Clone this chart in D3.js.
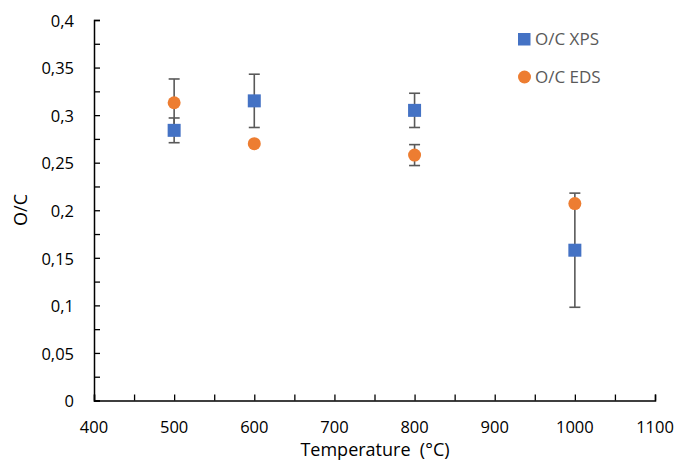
<!DOCTYPE html>
<html><head><meta charset="utf-8">
<script src="https://cdn.jsdelivr.net/npm/d3@7"></script>
<style>body{margin:0;background:#fff}</style>
</head><body>
<svg id="c" width="678" height="461"></svg>
<script>
const temps = [500, 600, 800, 1000];
const xpsValues = [0.284, 0.315, 0.305, 0.158];
const xpsErrors = [0.013, 0.028, 0.018, 0.060];
const edsValues = [0.313, 0.270, 0.258, 0.207];
const edsErrors = [0.025, 0, 0.011, 0];
const xTicks = [400, 500, 600, 700, 800, 900, 1000, 1100];
const yTicks = [0, 0.05, 0.1, 0.15, 0.2, 0.25, 0.3, 0.35, 0.4];
const seriesNames = ["O/C XPS", "O/C EDS"];

const svg = d3.select("#c");
const font = "'Open Sans', sans-serif";
const x = d3.scaleLinear().domain([400, 1100]).range([94, 655]);
const y = d3.scaleLinear().domain([0, 0.4]).range([400.5, 20]);
const fmt = d => String(+d.toFixed(3)).replace(".", ",");

// axes
const xAxis = d3.axisBottom(x).tickValues(d3.range(400, 1101, 50)).tickSize(-6).tickFormat("");
const gx = svg.append("g").attr("transform", `translate(0,${y(0)})`).call(xAxis);
const yAxis = d3.axisLeft(y).tickValues(d3.range(0, 0.4001, 0.025)).tickSize(-6).tickFormat("");
const gy = svg.append("g").attr("transform", `translate(${x(400)},0)`).call(yAxis);
[gx, gy].forEach(g => {
  g.select(".domain").attr("stroke", "#000").attr("stroke-width", 1.5);
  g.selectAll(".tick line").attr("stroke", "#000").attr("stroke-width", 1.3);
});

svg.append("g").selectAll("text").data(xTicks).join("text")
  .attr("x", d => x(d)).attr("y", 427).attr("dy", "0.35em")
  .attr("text-anchor", "middle").attr("font-family", font).attr("font-size", 16.5)
  .attr("fill", "#000").text(d => d);
svg.append("g").selectAll("text").data(yTicks).join("text")
  .attr("x", 74).attr("y", d => y(d) + 1).attr("dy", "0.35em")
  .attr("text-anchor", "end").attr("font-family", font).attr("font-size", 16.5)
  .attr("fill", "#000").text(fmt);

svg.append("text").attr("x", 375).attr("y", 450).attr("dy", "0.35em")
  .attr("text-anchor", "middle").attr("font-family", font).attr("font-size", 18)
  .attr("fill", "#000").attr("xml:space", "preserve").text("Temperature  (°C)");
svg.append("text").attr("transform", "translate(21,210) rotate(-90)").attr("dy", "0.35em")
  .attr("text-anchor", "middle").attr("font-family", font).attr("font-size", 18)
  .attr("fill", "#000").text("O/C");

// error bars
function errBars(vals, errs) {
  const g = svg.append("g").attr("stroke", "#595959").attr("stroke-width", 1.6);
  temps.forEach((t, i) => {
    if (!errs[i]) return;
    const cx = x(t), y1 = y(vals[i] + errs[i]), y2 = y(vals[i] - errs[i]);
    g.append("line").attr("x1", cx).attr("x2", cx).attr("y1", y1).attr("y2", y2);
    g.append("line").attr("x1", cx - 5.5).attr("x2", cx + 5.5).attr("y1", y1).attr("y2", y1);
    g.append("line").attr("x1", cx - 5.5).attr("x2", cx + 5.5).attr("y1", y2).attr("y2", y2);
  });
}
errBars(xpsValues, xpsErrors);
errBars(edsValues, edsErrors);

// markers
svg.append("g").selectAll("rect").data(temps).join("rect")
  .attr("x", d => x(d) - 6.5).attr("y", (d, i) => y(xpsValues[i]) - 6.5)
  .attr("width", 13).attr("height", 13).attr("fill", "#4472C4");
svg.append("g").selectAll("circle").data(temps).join("circle")
  .attr("cx", d => x(d)).attr("cy", (d, i) => y(edsValues[i]))
  .attr("r", 6.5).attr("fill", "#ED7D31");

// legend
const lg = svg.append("g");
lg.append("rect").attr("x", 518).attr("y", 33).attr("width", 12.5).attr("height", 12.5).attr("fill", "#4472C4");
lg.append("circle").attr("cx", 524.5).attr("cy", 77).attr("r", 6.5).attr("fill", "#ED7D31");
lg.selectAll("text").data(seriesNames).join("text")
  .attr("x", 535).attr("y", (d, i) => i ? 77 : 39.5).attr("dy", "0.35em")
  .attr("font-family", font).attr("font-size", 17).attr("fill", "#595959").text(d => d);
</script>
</body></html>
